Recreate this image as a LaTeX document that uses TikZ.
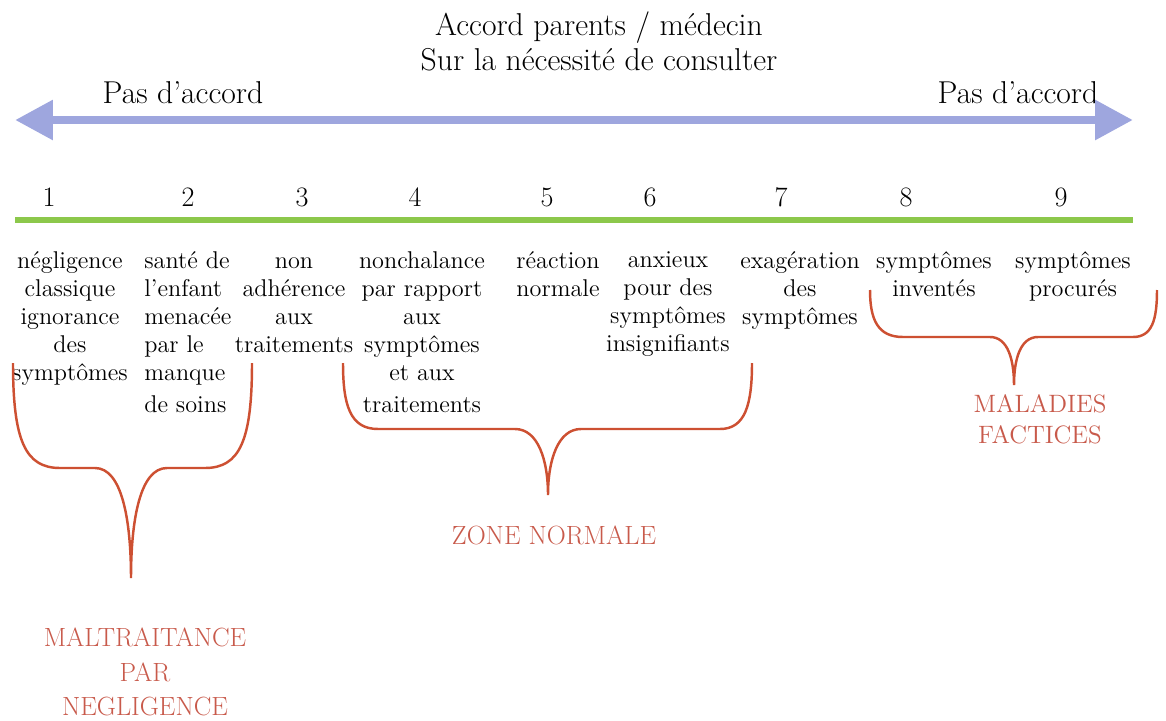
\documentclass[tikz,border=0pt]{standalone}
\usepackage{fontspec}
\usetikzlibrary{arrows.meta}
\definecolor{arrowblue}{RGB}{158,166,222}
\definecolor{linegreen}{RGB}{140,200,75}
\definecolor{bracered}{RGB}{205,80,50}
\definecolor{labelred}{RGB}{200,90,75}
\tikzset{
  heading/.style={
    align=center,
    inner sep=0pt,
    font=\fontsize{18}{20}\selectfont,
  },
  sidelabel/.style={
    inner sep=0pt,
    font=\fontsize{18}{20}\selectfont,
  },
  num/.style={
    inner sep=0pt,
    font=\fontsize{16}{18}\selectfont,
  },
  txt/.style={
    anchor=north,
    align=center,
    inner sep=0pt,
    font=\fontsize{13.8}{16}\selectfont,
  },
  zone/.style={
    align=center,
    inner sep=0pt,
    text=labelred,
    font=\fontsize{15}{19.6}\selectfont,
  },
  bracepath/.style={
    draw=bracered,
    line width=1.4pt,
  },
  agree/.style={
    draw=arrowblue,
    line width=5.1pt,
    {Triangle[length=0.76cm,width=0.76cm]}-{Triangle[length=0.76cm,width=0.76cm]},
  },
  scaleline/.style={
    draw=linegreen,
    line width=3.4pt,
  },
}

\begin{document}
\begin{tikzpicture}[x=0.02cm, y=-0.02cm]
  \useasboundingbox (0,0) rectangle (1166,720);

  \node[heading, anchor=north] (title) at (599,11)
    {Accord parents / médecin\\Sur la nécessité de consulter};
  \node[sidelabel] (disL) at (183,93) {Pas d'accord};
  \node[sidelabel] (disR) at (1018,93) {Pas d'accord};

  \coordinate (arrL) at (15,120);
  \coordinate (arrR) at (1133,120);
  \draw[agree] (arrL) -- (arrR);

  \node[num] (n1) at (49,197) {1};
  \node[num] (n2) at (188,197) {2};
  \node[num] (n3) at (302,197) {3};
  \node[num] (n4) at (415,197) {4};
  \node[num] (n5) at (547,197) {5};
  \node[num] (n6) at (650,197) {6};
  \node[num] (n7) at (781,197) {7};
  \node[num] (n8) at (906,197) {8};
  \node[num] (n9) at (1061,197) {9};

  \coordinate (lineL) at (15,220);
  \coordinate (lineR) at (1133,220);
  \draw[scaleline] (lineL) -- (lineR);

  \node[txt] (col1) at (70,251) {négligence\\classique\\ignorance\\des\\symptômes};
  \node[txt, anchor=north west, align=left] (col2) at (144,251)
    {santé de\\l'enfant\\menacée\\par le\\manque\\[.08cm]de soins};
  \node[txt] (col3) at (294,257) {non\\adhérence\\aux\\traitements};
  \node[txt] (col4) at (422,251)
    {nonchalance\\par rapport\\aux\\symptômes\\et aux\\[.08cm]traitements};
  \node[txt] (col5) at (558,251) {réaction\\normale};
  \node[txt] (col6) at (668,251) {anxieux\\pour des\\symptômes\\insignifiants};
  \node[txt] (col7) at (800,251) {exagération\\des\\symptômes};
  \node[txt] (col8) at (934,251) {symptômes\\inventés};
  \node[txt] (col9) at (1073,251) {symptômes\\procurés};

  \draw[bracepath] (13,363) .. controls (13,440) and (25,468) .. (60,468)
    -- (95,468) .. controls (122,468) and (131,520) .. (131,578)
    .. controls (131,520) and (140,468) .. (167,468)
    -- (205,468) .. controls (240,468) and (252,440) .. (252,363);
  \draw[bracepath] (343,363) .. controls (343,405) and (350,429) .. (378,429)
    -- (515,429) .. controls (538,429) and (548,460) .. (548,495)
    .. controls (548,460) and (558,429) .. (581,429)
    -- (720,429) .. controls (745,429) and (752,405) .. (752,363);
  \draw[bracepath] (870,290) .. controls (870,320) and (878,337) .. (903,337)
    -- (990,337) .. controls (1008,337) and (1014,360) .. (1014,385)
    .. controls (1014,360) and (1020,337) .. (1038,337)
    -- (1133,337) .. controls (1152,337) and (1157,320) .. (1157,290);

  \node[zone, anchor=north] (neglig) at (145,628) {MALTRAITANCE\\PAR\\NEGLIGENCE};
  \node[zone] (normal) at (554,535) {ZONE NORMALE};
  \node[zone, anchor=north, font=\fontsize{14.3}{18}\selectfont] (factice) at (1040,394)
    {MALADIES\\FACTICES};
\end{tikzpicture}
\end{document}
